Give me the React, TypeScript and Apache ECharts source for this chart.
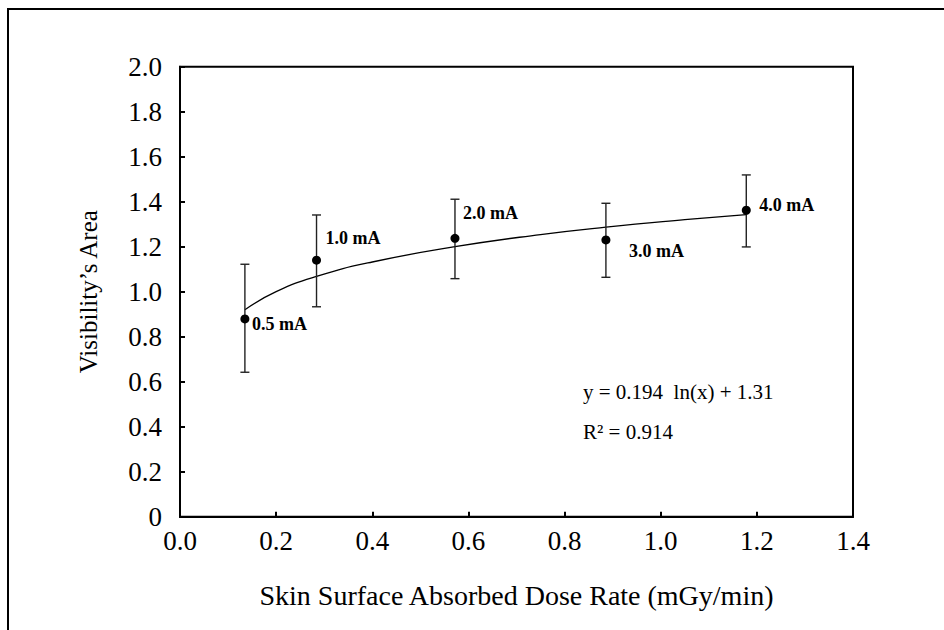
import React, { useEffect, useRef } from "react";
import * as echarts from "echarts";

// Data
const currents = ["0.5 mA", "1.0 mA", "2.0 mA", "3.0 mA", "4.0 mA"];
const doseRate = [0.135, 0.284, 0.572, 0.886, 1.178];
const visibility = [0.879, 1.14, 1.237, 1.23, 1.362];
const errLow = [0.642, 0.933, 1.058, 1.064, 1.199];
const errHigh = [1.122, 1.341, 1.411, 1.393, 1.519];

// Logarithmic trend line
const trendX = [0.135, 0.2, 0.284, 0.4, 0.572, 0.75, 0.886, 1.05, 1.178];
const trendY = [0.92, 1.0, 1.068, 1.132, 1.2, 1.254, 1.287, 1.32, 1.343];

const xTickLabels = ["0.0", "0.2", "0.4", "0.6", "0.8", "1.0", "1.2", "1.4"];
const yTickLabels = ["0", "0.2", "0.4", "0.6", "0.8", "1.0", "1.2", "1.4", "1.6", "1.8", "2.0"];

const equationText = "y = 0.194  ln(x) + 1.31";
const r2Text = "R² = 0.914";
const xTitle = "Skin Surface Absorbed Dose Rate (mGy/min)";
const yTitle = "Visibility’s Area";

// label placement (style, not data)
const labelOffsets: [number, number][] = [
  [2.5, 5],
  [4.5, -22.6],
  [3.5, -25],
  [18.5, 11],
  [8.5, -5],
];

const FONT = "'Liberation Serif', 'Times New Roman', serif";

export default function App() {
  const ref = useRef<HTMLDivElement>(null);
  useEffect(() => {
    document.body.style.margin = "0";
    if (!ref.current) return;
    const chart = echarts.init(ref.current, null, { renderer: "svg" });
    const tickIdx = (v: number) => Math.round(v / 0.2);
    chart.setOption({
      animation: false,
      backgroundColor: "#fff",
      textStyle: { fontFamily: FONT },
      grid: {
        left: 180,
        top: 66.7,
        right: 91,
        bottom: 113.3,
        show: true,
        borderColor: "#000",
        borderWidth: 2,
        backgroundColor: "transparent",
      },
      xAxis: {
        type: "value",
        min: 0,
        max: 1.4,
        interval: 0.2,
        name: xTitle,
        nameLocation: "middle",
        nameGap: 65,
        nameTextStyle: { fontFamily: FONT, fontSize: 28, color: "#000" },
        axisLine: { show: true, onZero: false, lineStyle: { color: "#000", width: 2 } },
        axisTick: { show: true, inside: true, length: 5, lineStyle: { color: "#000", width: 2 } },
        axisLabel: {
          fontFamily: FONT,
          fontSize: 27,
          color: "#000",
          margin: 11,
          formatter: (v: number) => xTickLabels[tickIdx(v)] ?? "",
        },
        splitLine: { show: false },
      },
      yAxis: {
        type: "value",
        min: 0,
        max: 2.0,
        interval: 0.2,
        name: yTitle,
        nameLocation: "middle",
        nameGap: 79,
        nameRotate: 90,
        nameTextStyle: { fontFamily: FONT, fontSize: 25, color: "#000" },
        axisLine: { show: true, onZero: false, lineStyle: { color: "#000", width: 2 } },
        axisTick: { show: true, inside: true, length: 5, lineStyle: { color: "#000", width: 2 } },
        axisLabel: {
          fontFamily: FONT,
          fontSize: 27,
          color: "#000",
          margin: 18,
          formatter: (v: number) => yTickLabels[tickIdx(v)] ?? "",
        },
        splitLine: { show: false },
      },
      graphic: [
        {
          type: "rect",
          shape: { x: 8, y: 9, width: 960, height: 660 },
          style: { fill: "none", stroke: "#000", lineWidth: 2 },
          silent: true,
          z: -1,
        },
        {
          type: "text",
          x: 583,
          y: 391.7,
          style: {
            text: equationText,
            font: `21px ${FONT}`,
            fill: "#000",
            verticalAlign: "middle",
            align: "left",
          },
        },
        {
          type: "text",
          x: 583,
          y: 431.7,
          style: {
            text: r2Text,
            font: `21px ${FONT}`,
            fill: "#000",
            verticalAlign: "middle",
            align: "left",
          },
        },
      ],
      series: [
        {
          type: "line",
          data: trendX.map((x, i) => [x, trendY[i]]),
          smooth: true,
          showSymbol: false,
          symbol: "none",
          lineStyle: { color: "#000", width: 1.3 },
          z: 2,
          silent: true,
        },
        {
          type: "custom",
          data: doseRate.map((x, i) => [x, errLow[i], errHigh[i]]),
          renderItem: (_params: any, api: any) => {
            const x = api.value(0);
            const lo = api.coord([x, api.value(1)]);
            const hi = api.coord([x, api.value(2)]);
            const cap = 4.5;
            const style = { stroke: "#222", lineWidth: 1.4 };
            return {
              type: "group",
              children: [
                { type: "line", shape: { x1: lo[0], y1: lo[1], x2: hi[0], y2: hi[1] }, style },
                { type: "line", shape: { x1: lo[0] - cap, y1: lo[1], x2: lo[0] + cap, y2: lo[1] }, style },
                { type: "line", shape: { x1: hi[0] - cap, y1: hi[1], x2: hi[0] + cap, y2: hi[1] }, style },
              ],
            };
          },
          z: 3,
          silent: true,
        },
        {
          type: "scatter",
          symbol: "circle",
          symbolSize: 9,
          itemStyle: { color: "#000", opacity: 1 },
          data: doseRate.map((x, i) => ({
            value: [x, visibility[i]],
            label: {
              show: true,
              formatter: currents[i],
              position: "right",
              distance: 0,
              offset: labelOffsets[i],
              fontFamily: FONT,
              fontWeight: "bold",
              fontSize: 18,
              color: "#000",
            },
          })),
          z: 4,
          silent: true,
        },
      ],
    });
    return () => chart.dispose();
  }, []);
  return <div ref={ref} style={{ width: 944, height: 630 }} />;
}
